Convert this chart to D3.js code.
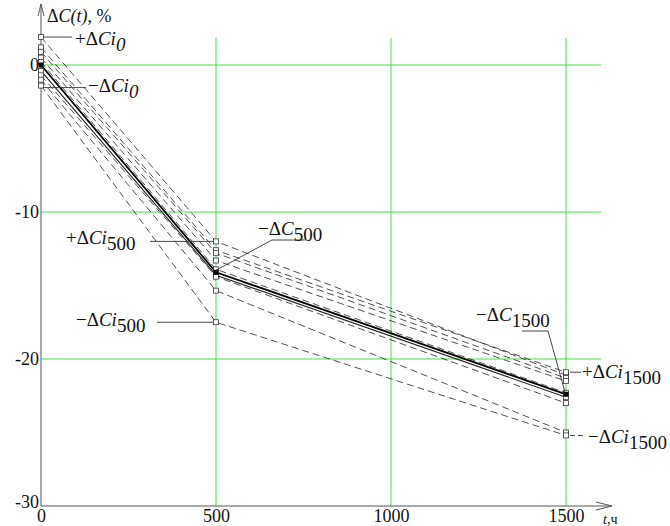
<!DOCTYPE html>
<html>
<head>
<meta charset="utf-8">
<script src="https://cdn.jsdelivr.net/npm/d3@7"></script>
<style>
  body { margin: 0; background: #fff; }
</style>
</head>
<body>
<div id="chart"></div>
<script>
// hours of the measurements
const times = [0, 500, 1500]
// change of capacitance, % for every sample (dashed / thin)
const samples = [
    [1.9, -12.0, -21.1],
    [1.2, -12.6, -20.9],
    [0.9, -12.8, -21.3],
    [0.5, -13.3, -21.5],
    [0.2, -13.9, -22.3],
    [-0.4, -14.3, -22.6],
    [-0.7, -14.4, -23.0],
    [-1.0, -15.35, -25.0],
    [-1.4, -17.5, -25.2]
]
const solidSample = 5
// mean line
const mean = [0, -14.1, -22.4]
const yTicks = [0, -10, -20, -30]
const xTicks = [0, 500, 1000, 1500]

const w = 670
const h = 526
const serif = '"Liberation Serif", "DejaVu Serif", "Times New Roman", serif'

const x = d3.scaleLinear().domain([0, 1500]).range([41, 566])
const y = d3.scaleLinear().domain([-30, 0]).range([506, 65])

const svg = d3.select('#chart')
    .append('svg')
    .attr('width', w)
    .attr('height', h)
    .style('font-family', serif)

// green grid
const green = '#44e044'
svg.selectAll('line.vgrid')
    .data(xTicks.slice(1))
    .enter()
    .append('line')
    .attr('x1', d => x(d)).attr('x2', d => x(d))
    .attr('y1', y(1.85)).attr('y2', y(-30))
    .attr('stroke', green).attr('stroke-width', 1)
svg.selectAll('line.hgrid')
    .data(yTicks.slice(0, 3))
    .enter()
    .append('line')
    .attr('x1', x(0)).attr('x2', x(1600))
    .attr('y1', d => y(d)).attr('y2', d => y(d))
    .attr('stroke', green).attr('stroke-width', 1)

// axes
const axisColor = '#555'
const yAxis = svg.append('g')
    .attr('transform', `translate(${x(0)},0)`)
    .call(d3.axisLeft(y).tickValues(yTicks).tickSize(0).tickPadding(2).tickFormat(d => String(d)))
yAxis.attr('font-family', serif)
yAxis.select('.domain').remove()
yAxis.selectAll('text').style('font-size', '18px').style('font-family', serif).attr('fill', '#111')
    .attr('dy', d => d === -30 ? '0.1em' : '0.32em')

const xAxis = svg.append('g')
    .attr('transform', `translate(0,${y(-30)})`)
    .call(d3.axisBottom(x).tickValues(xTicks).tickSize(0).tickPadding(3).tickFormat(d => String(d)))
xAxis.attr('font-family', serif)
xAxis.select('.domain').remove()
xAxis.selectAll('text').style('font-size', '18px').style('font-family', serif).attr('fill', '#111')

svg.append('line')
    .attr('x1', x(0)).attr('x2', x(0)).attr('y1', y(-30)).attr('y2', 4)
    .attr('stroke', axisColor)
svg.append('path')
    .attr('d', `M${x(0) - 3},16 L${x(0)},4 L${x(0) + 3},16`)
    .attr('fill', 'none').attr('stroke', axisColor)
svg.append('line')
    .attr('x1', x(0)).attr('x2', 612).attr('y1', y(-30)).attr('y2', y(-30))
    .attr('stroke', axisColor)
svg.append('path')
    .attr('d', `M596,${y(-30) - 4} L612,${y(-30)} L596,${y(-30) + 4}`)
    .attr('fill', 'none').attr('stroke', axisColor)

const line = d3.line()
    .x((d, i) => x(times[i]))
    .y(d => y(d))

// samples
svg.selectAll('path.sample')
    .data(samples)
    .enter()
    .append('path')
    .attr('class', 'sample')
    .attr('d', line)
    .attr('fill', 'none')
    .attr('stroke', '#222')
    .attr('stroke-width', (d, i) => i === solidSample ? 1.1 : 0.8)
    .attr('stroke-dasharray', (d, i) => i === solidSample ? null : '7,4')

svg.append('path')
    .attr('d', line(mean))
    .attr('fill', 'none')
    .attr('stroke', '#000')
    .attr('stroke-width', 1.8)

// square markers
const pts = []
samples.forEach(s => s.forEach((v, i) => pts.push({ t: times[i], v: v })))
svg.selectAll('rect.mk')
    .data(pts)
    .enter()
    .append('rect')
    .attr('x', d => x(d.t) - 2.5)
    .attr('y', d => y(d.v) - 2.5)
    .attr('width', 5).attr('height', 5)
    .attr('fill', '#fff')
    .attr('stroke', '#333')
    .attr('stroke-width', 0.8)
svg.selectAll('rect.mean')
    .data(mean)
    .enter()
    .append('rect')
    .attr('x', (d, i) => x(times[i]) - 2.5)
    .attr('y', d => y(d) - 2.5)
    .attr('width', 5).attr('height', 5)
    .attr('fill', '#000')

// labels
function label(px, py, sign, base, sub, size) {
    const t = svg.append('text')
        .attr('x', px).attr('y', py)
        .style('font-size', (size || 19) + 'px')
        .style('font-family', serif)
        .attr('fill', '#111')
    t.append('tspan').text(sign)
    t.append('tspan').text('Δ')
    t.append('tspan').text(base).style('font-style', 'italic')
    t.append('tspan').text(sub).attr('dy', 6).style('font-style', sub === '0' ? 'italic' : null)
    return t
}
function leader(pts, dash) {
    svg.append('path')
        .attr('d', d3.line()(pts))
        .attr('fill', 'none')
        .attr('stroke', '#333')
        .attr('stroke-width', 0.9)
        .attr('stroke-dasharray', dash || null)
}

const ty = svg.append('text').attr('x', 47).attr('y', 22).style('font-size', '18px')
    .style('font-family', serif).attr('fill', '#111')
ty.append('tspan').text('Δ')
ty.append('tspan').text('C(t)').style('font-style', 'italic')
ty.append('tspan').text(', %')

const tx = svg.append('text').attr('x', 603).attr('y', 524).style('font-size', '14px')
    .style('font-family', serif).attr('fill', '#111')
tx.append('tspan').text('t').style('font-style', 'italic')
tx.append('tspan').text(',ч')

leader([[x(0) + 2, y(samples[0][0])], [72, y(samples[0][0])]])
label(75, 45, '+', 'Ci', '0')
leader([[x(0) + 2, y(samples[8][0]) + 2], [86, y(samples[8][0]) + 2]])
label(88, 92, '−', 'Ci', '0')

leader([[150, y(samples[0][1])], [x(500) - 3, y(samples[0][1])]])
label(66, 244, '+', 'Ci', '500')
leader([[x(500), y(mean[1]) - 2], [272, 240], [305, 240]])
label(258, 235, '−', 'C', '500')
leader([[157, y(samples[8][1])], [x(500) - 3, y(samples[8][1])]])
label(76, 326, '−', 'Ci', '500')

leader([[522, 331], [548, 331], [x(1500) - 1, y(mean[2]) - 2]])
label(476, 321, '−', 'C', '1500')
leader([[570, y(samples[1][2])], [581, y(samples[1][2])]])
label(582, 378, '+', 'Ci', '1500')
leader([[570, y(samples[8][2])], [586, y(samples[8][2])]], '5,3')
label(588, 443, '−', 'Ci', '1500')
</script>
</body>
</html>
